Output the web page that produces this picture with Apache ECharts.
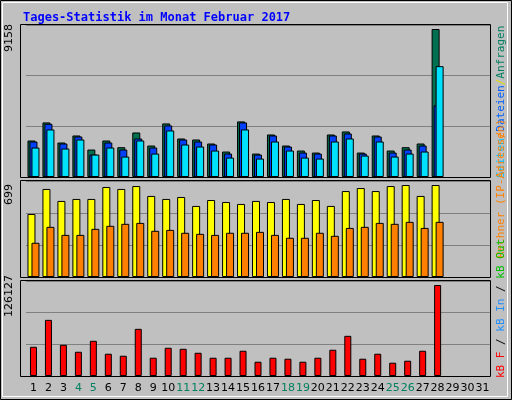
<!DOCTYPE html>
<html>
<head>
<meta charset="utf-8">
<script src="https://cdn.jsdelivr.net/npm/echarts@6/dist/echarts.min.js"></script>
<style>
body { margin: 0; }
#chart { width: 512px; height: 400px; }
</style>
</head>
<body>
<div id="chart"></div>
<script>
var days = [];
for (var d = 1; d <= 31; d++) days.push(String(d));
var weekend = ['4', '5', '11', '12', '18', '19', '25', '26'];

var hits = [2258, 3377, 2134, 2569, 1699, 2258, 1844, 2756, 1948, 3315, 2383, 2321, 2072, 1575, 3440, 1450, 2631, 1948, 1637, 1513, 2631, 2818, 1513, 2569, 1637, 1844, 2072, 9158];
var files = [2196, 3294, 2072, 2507, 1388, 2134, 1699, 2383, 1823, 3191, 2321, 2196, 2010, 1450, 3377, 1388, 2569, 1885, 1513, 1450, 2569, 2694, 1450, 2507, 1513, 1699, 1948, 4434];
var pages = [1823, 2942, 1761, 2321, 1388, 1823, 1264, 2258, 1450, 2880, 2010, 1885, 1637, 1202, 2942, 1140, 2196, 1637, 1202, 1140, 2196, 2383, 1326, 2196, 1264, 1450, 1575, 6858];
var visits = [479, 669, 578, 593, 593, 684, 669, 691, 616, 593, 608, 540, 585, 570, 555, 578, 570, 593, 555, 585, 540, 653, 676, 653, 691, 699, 616, 699];
var sites = [260, 381, 320, 320, 366, 389, 404, 411, 351, 358, 336, 328, 320, 336, 336, 343, 320, 298, 298, 336, 313, 373, 381, 411, 404, 419, 373, 419];
var kbytes = [40506, 77791, 43268, 33602, 48792, 30840, 28078, 65363, 25317, 39126, 37745, 32221, 25317, 25317, 34983, 19793, 25317, 23936, 19793, 25317, 36364, 55696, 23936, 30840, 18412, 21174, 34983, 126127];

var maxHits = 9158, maxVisits = 699, maxKB = 126127;

var myChart = echarts.init(document.getElementById('chart'));

function xAxisFor(idx, show) {
    return {
        type: 'category', gridIndex: idx, data: days,
        axisLine: { show: false }, axisTick: { show: false },
        axisLabel: {
            show: show, margin: 7, fontFamily: 'DejaVu Sans', fontSize: 11, interval: 0,
            color: function (v) { return weekend.indexOf(v) >= 0 ? '#008060' : '#000000'; }
        }
    };
}
function yAxisFor(idx, max) {
    return {
        type: 'value', gridIndex: idx, min: 0, max: max, interval: max / 3,
        axisLabel: { show: false }, axisLine: { show: false }, axisTick: { show: false },
        splitLine: { lineStyle: { color: '#808080', width: 1 } }
    };
}
function barSeries(name, data, xi, color, width, gap) {
    return {
        name: name, type: 'bar', xAxisIndex: xi, yAxisIndex: xi, data: data,
        barWidth: width, barGap: gap, animation: false,
        itemStyle: { color: color, borderColor: '#000000', borderWidth: 1 }
    };
}
function frame(y, h) {
    return { type: 'rect', z: 10, shape: { x: 20.5, y: y + 0.5, width: 470, height: h }, style: { fill: 'none', stroke: '#000', lineWidth: 1 } };
}
function vtext(x, y, parts) {
    return {
        type: 'text', x: x, y: y, rotation: Math.PI / 2,
        style: { text: parts, rich: rich, fontFamily: 'DejaVu Sans Mono', fontSize: 11, align: 'left', verticalAlign: 'middle' }
    };
}
function rs(c) { return { fill: c, fontFamily: 'DejaVu Sans Mono', fontSize: 11 }; }
var rich = {
    c: rs('#00c0ff'), b: rs('#0060ff'), g: rs('#008060'), o: rs('#ff8000'),
    y: rs('#e0e000'), r: rs('#ff0000'), l: rs('#2090ff'), n: rs('#00c000'), k: rs('#000000')
};

var option = {
    backgroundColor: '#c0c0c0',
    animation: false,
    title: {
        text: 'Tages-Statistik im Monat Februar 2017', left: 18, top: 7,
        textStyle: { color: '#0000ff', fontFamily: 'DejaVu Sans Mono', fontWeight: 'bold', fontSize: 12 }
    },
    grid: [
        { left: 26, right: 22, top: 25, height: 152 },
        { left: 26, right: 22, top: 181, height: 96 },
        { left: 26, right: 22, top: 281, height: 95 }
    ],
    xAxis: [xAxisFor(0, false), xAxisFor(1, false), xAxisFor(2, true)],
    yAxis: [yAxisFor(0, maxHits * 152 / 148), yAxisFor(1, maxVisits * 96 / 92), yAxisFor(2, maxKB * 95 / 91)],
    series: [
        barSeries('Anfragen', hits, 0, '#007050', 8, '-75%'),
        barSeries('Dateien', files, 0, '#0040ff', 8, '-75%'),
        barSeries('Seiten', pages, 0, '#00e0ff', 8, '-75%'),
        barSeries('Besuche', visits, 1, '#ffff00', 8, '-50%'),
        barSeries('Rechner', sites, 1, '#ff8000', 8, '-50%'),
        barSeries('kB F', kbytes, 2, '#ff0000', 7, '0%')
    ],
    graphic: [
        { type: 'rect', shape: { x: 0.5, y: 0.5, width: 511, height: 399 }, style: { fill: 'none', stroke: '#000', lineWidth: 1 } },
        { type: 'rect', shape: { x: 2.5, y: 2.5, width: 505, height: 394 }, style: { fill: 'none', stroke: '#ffffff', lineWidth: 1 } },
        frame(24, 153), frame(180, 97), frame(280, 96),
        { type: 'text', x: 9, y: 52, rotation: Math.PI / 2, style: { text: String(maxHits), fontFamily: 'DejaVu Sans', fontSize: 11, fill: '#000', align: 'left', verticalAlign: 'middle' } },
        { type: 'text', x: 9, y: 205, rotation: Math.PI / 2, style: { text: String(maxVisits), fontFamily: 'DejaVu Sans', fontSize: 11, fill: '#000', align: 'left', verticalAlign: 'middle' } },
        { type: 'text', x: 9, y: 317, rotation: Math.PI / 2, style: { text: String(maxKB), fontFamily: 'DejaVu Sans', fontSize: 11, fill: '#000', align: 'left', verticalAlign: 'middle' } },
        vtext(501, 178, '{c|Seiten}{o|/}{b|Dateien}{y|/}{g|Anfragen}'),
        vtext(501, 258, '{o|Rechner (IP-Adressen)}'),
        vtext(501, 378, '{r|kB F} {k|/} {l|kB In} {k|/} {n|kB Out}')
    ]
};
myChart.setOption(option);
</script>
</body>
</html>
